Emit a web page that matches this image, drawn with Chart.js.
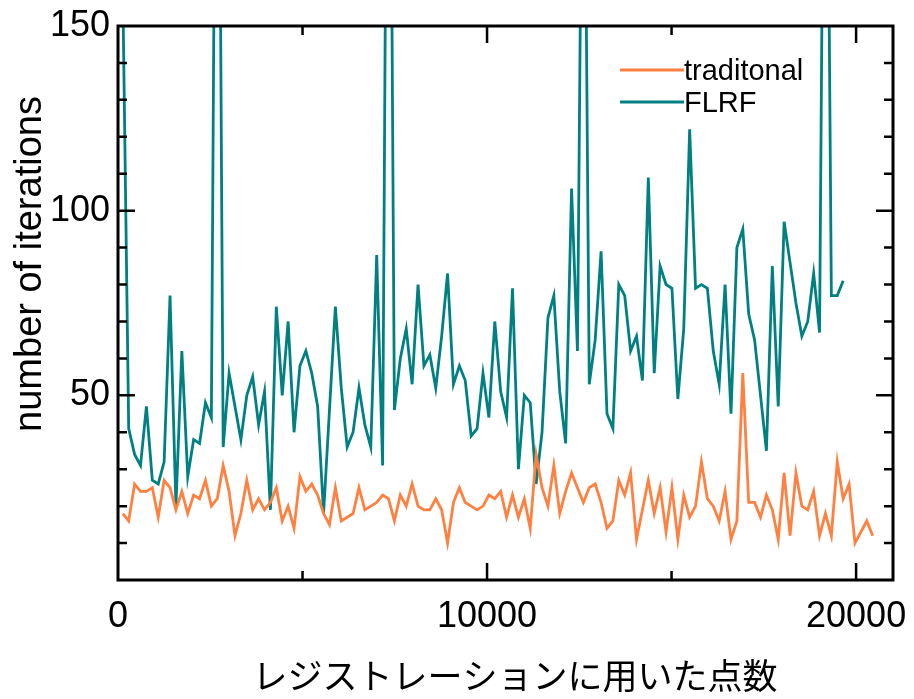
<!DOCTYPE html>
<html>
<head>
<meta charset="utf-8">
<script src="https://cdn.jsdelivr.net/npm/chart.js@4.4.1/dist/chart.umd.min.js"></script>
<style>
  html, body { margin: 0; padding: 0; background: #fff; }
  #wrap { width: 914px; height: 699px; }
</style>
</head>
<body>
<div id="wrap"><canvas id="chart" width="914" height="699"></canvas></div>
<script>
// puntos usados en la registración (eje x)
const sampleSizes = [
  130, 290, 450, 610, 770, 930, 1090, 1250, 1410, 1570,
  1730, 1890, 2050, 2210, 2370, 2530, 2690, 2850, 3010, 3170,
  3330, 3490, 3650, 3810, 3970, 4130, 4290, 4450, 4610, 4770,
  4930, 5090, 5250, 5410, 5570, 5730, 5890, 6050, 6210, 6370,
  6530, 6690, 6850, 7010, 7170, 7330, 7490, 7650, 7810, 7970,
  8130, 8290, 8450, 8610, 8770, 8930, 9090, 9250, 9410, 9570,
  9730, 9890, 10050, 10210, 10370, 10530, 10690, 10850, 11010, 11170,
  11330, 11490, 11650, 11810, 11970, 12130, 12290, 12450, 12610, 12770,
  12930, 13090, 13250, 13410, 13570, 13730, 13890, 14050, 14210, 14370,
  14530, 14690, 14850, 15010, 15170, 15330, 15490, 15650, 15810, 15970,
  16130, 16290, 16450, 16610, 16770, 16930, 17090, 17250, 17410, 17570,
  17730, 17890, 18050, 18210, 18370, 18530, 18690, 18850, 19010, 19170,
  19330, 19490, 19650, 19810, 19970, 20130, 20290, 20450
];

// iteraciones, método tradicional
const traditional = [
  18, 16, 26, 24, 24, 25, 17, 27, 25, 19,
  24, 18, 23, 22, 27, 20, 22, 31, 24, 12,
  18, 27, 19, 22, 19, 21, 25, 16, 20, 14,
  28, 24, 26, 23, 18, 15, 25, 16, 17, 18,
  25, 19, 20, 21, 23, 22, 16, 23, 20, 26,
  20, 19, 19, 22, 19, 10, 21, 25, 21, 20,
  19, 20, 23, 22, 24, 17, 23, 17, 22, 14,
  34, 25, 20, 31, 18, 24, 29, 25, 21, 25,
  26, 21, 14, 16, 27, 23, 29, 11, 19, 27,
  18, 25, 13, 25, 11, 23, 17, 20, 32, 22,
  20, 16, 24, 11, 16, 56, 21, 21, 17, 23,
  19, 11, 29, 12, 29, 20, 19, 24, 12, 18,
  12, 32, 22, 26, 10, 13, 16, 12
];

// iteraciones, FLRF (los picos salen del gráfico)
const flrf = [
  160, 41, 34, 31, 47, 27, 26, 32, 77, 20,
  62, 28, 38, 37, 48, 44, 300, 36, 56, 47,
  38, 50, 55, 42, 51, 19, 74, 50, 70, 40,
  58, 62, 56, 47, 18, 46, 74, 52, 36, 40,
  52, 42, 36, 88, 31, 300, 46, 60, 68, 53,
  80, 58, 61, 52, 66, 83, 53, 58, 54, 39,
  41, 56, 44, 70, 51, 44, 79, 30, 50, 48,
  26, 40, 71, 77, 51, 37, 106, 62, 250, 53,
  65, 89, 45, 41, 80, 77, 62, 66, 54, 109,
  56, 85, 80, 79, 49, 68, 122, 79, 80, 79,
  62, 53, 80, 45, 90, 95, 72, 65, 50, 35,
  85, 47, 97, 86, 75, 66, 70, 83, 67, 280,
  77, 77, 81
];

const xTicks = [0, 10000, 20000];
const yTicks = [50, 100, 150];
const seriesNames = ['traditonal', 'FLRF'];
const xTitle = 'レジストレーションに用いた点数';
const yTitle = 'number of iterations';

const ORANGE = '#ff8040';
const TEAL = '#008080';
const FONT = "'Liberation Sans', Arial, sans-serif";

function toPoints(values) {
    return values.map((v, i) => ({ x: sampleSizes[i], y: v }));
}

// marco y marcas hacia dentro
const frameAndTicks = {
    id: 'frameAndTicks',
    afterDatasetsDraw(chart) {
        const { ctx, chartArea: a, scales: { x, y } } = chart;
        ctx.save();
        ctx.strokeStyle = '#000';
        ctx.lineWidth = 2.5;
        ctx.beginPath();
        for (let v = 10; v < 150; v += 10) {
            const py = y.getPixelForValue(v);
            const len = v % 50 === 0 ? 17 : 9;
            ctx.moveTo(a.left, py); ctx.lineTo(a.left + len, py);
            ctx.moveTo(a.right, py); ctx.lineTo(a.right - len, py);
        }
        for (let v = 5000; v < 21000; v += 5000) {
            const px = x.getPixelForValue(v);
            const len = v % 10000 === 0 ? 17 : 9;
            ctx.moveTo(px, a.bottom); ctx.lineTo(px, a.bottom - len);
            ctx.moveTo(px, a.top); ctx.lineTo(px, a.top + len);
        }
        ctx.stroke();
        ctx.lineWidth = 3;
        ctx.strokeRect(a.left, a.top, a.right - a.left, a.bottom - a.top);
        ctx.restore();
    }
};

// leyenda dentro del área y títulos de ejes
const legendAndTitles = {
    id: 'legendAndTitles',
    afterDraw(chart) {
        const ctx = chart.ctx;
        ctx.save();
        const rows = [71, 103];
        chart.data.datasets.forEach((ds, i) => {
            ctx.strokeStyle = ds.borderColor;
            ctx.lineWidth = 2.8;
            ctx.beginPath();
            ctx.moveTo(620, rows[i] - 1);
            ctx.lineTo(684, rows[i] - 1);
            ctx.stroke();
            ctx.fillStyle = '#000';
            ctx.font = `29px ${FONT}`;
            ctx.textAlign = 'left';
            ctx.textBaseline = 'middle';
            ctx.fillText(ds.label, 684, rows[i] + 1);
        });

        ctx.fillStyle = '#000';
        ctx.font = "35px 'Noto Sans CJK JP', sans-serif";
        ctx.textAlign = 'center';
        ctx.textBaseline = 'middle';
        ctx.fillText(xTitle, 515, 676);

        ctx.translate(41, 264);
        ctx.rotate(-Math.PI / 2);
        ctx.font = `38px ${FONT}`;
        ctx.textBaseline = 'alphabetic';
        ctx.fillText(yTitle, 0, 0);
        ctx.restore();
    }
};

new Chart(document.getElementById('chart'), {
    type: 'line',
    data: {
        datasets: [
            {
                label: seriesNames[0],
                data: toPoints(traditional),
                borderColor: ORANGE,
                borderWidth: 2.8,
                pointRadius: 0,
                tension: 0,
                fill: false
            },
            {
                label: seriesNames[1],
                data: toPoints(flrf),
                borderColor: TEAL,
                borderWidth: 2.8,
                pointRadius: 0,
                tension: 0,
                fill: false
            }
        ]
    },
    options: {
        responsive: false,
        animation: false,
        devicePixelRatio: 1,
        layout: { padding: { top: 26, right: 21, left: 0, bottom: 0 } },
        plugins: {
            legend: { display: false },
            tooltip: { enabled: false }
        },
        scales: {
            x: {
                type: 'linear',
                min: 0,
                max: 21000,
                grid: { display: false, drawTicks: false },
                border: { display: false },
                afterBuildTicks: (s) => { s.ticks = xTicks.map(v => ({ value: v })); },
                afterFit: (s) => { s.height = 119; s.paddingLeft = 0; s.paddingRight = 0; },
                ticks: {
                    autoSkip: false,
                    maxRotation: 0,
                    padding: 15,
                    color: '#000',
                    font: { family: FONT, size: 36 },
                    callback: (v) => String(v)
                }
            },
            y: {
                min: 0,
                max: 150,
                grid: { display: false, drawTicks: false },
                border: { display: false },
                afterBuildTicks: (s) => { s.ticks = yTicks.map(v => ({ value: v })); },
                afterFit: (s) => { s.width = 118; s.paddingTop = 0; s.paddingBottom = 0; },
                ticks: {
                    autoSkip: false,
                    padding: 8,
                    color: '#000',
                    font: { family: FONT, size: 36 },
                    callback: (v) => String(v)
                }
            }
        }
    },
    plugins: [frameAndTicks, legendAndTitles]
});
</script>
</body>
</html>
